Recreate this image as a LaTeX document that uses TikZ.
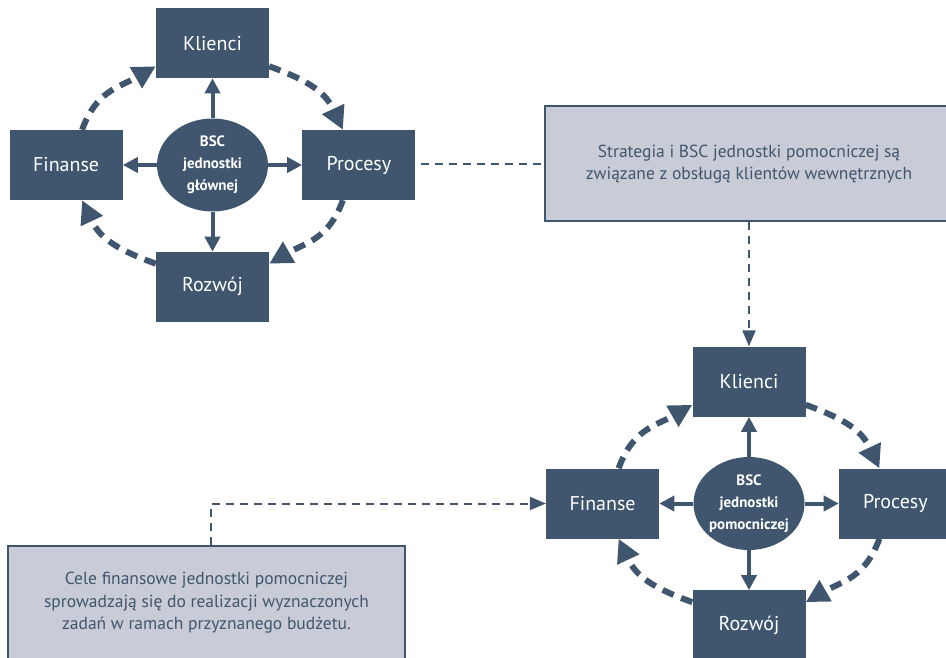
\documentclass[tikz,border=0pt]{standalone}
\usepackage{fontspec}
\setmainfont{PT Sans}
\usetikzlibrary{arrows.meta, positioning, shapes.geometric}
\definecolor{bscblue}{HTML}{40566E}
\definecolor{notegray}{HTML}{C9CCD6}

\begin{document}
\begin{tikzpicture}[x=1pt, y=1pt, node distance=40pt and 34pt]
    \tikzstyle{area}=[rectangle, fill=bscblue, text=white, minimum width=113pt, minimum height=70pt, inner sep=0pt, font=\fontsize{20}{22}\selectfont]
    \tikzstyle{core}=[ellipse, fill=bscblue, text=white, minimum width=111pt, minimum height=93pt, inner sep=-6pt, align=center, font=\bfseries\fontsize{15}{22}\selectfont]
    \tikzstyle{note}=[rectangle, draw=bscblue, line width=2pt, fill=notegray, text=bscblue, align=center, minimum height=115pt, font=\fontsize{17.5}{22.5}\selectfont]
    \tikzstyle{spoke}=[line width=4pt, draw=bscblue, -{Triangle[length=15pt, width=15pt]}]
    \tikzstyle{cycle}=[line width=6pt, draw=bscblue, dash pattern=on 12pt off 8pt, -{Triangle[length=23pt, width=23pt]}]
    \tikzstyle{link}=[line width=2pt, draw=bscblue, dash pattern=on 8pt off 6pt]
    \clip (0,0) rectangle (946,-658);

    % jednostka glowna
    \node[core] (main) at (212.5,-165) {BSC\\jednostki\\głównej};
    \node[area, above=of main] (kli) {Klienci};
    \node[area, below=of main] (roz) {Rozwój};
    \node[area, left=of main] (fin) {Finanse};
    \node[area, right=of main] (pro) {Procesy};
    \foreach \n in {kli, roz, fin, pro}
      \draw[spoke] (main) -- (\n);
    \draw[cycle] ([xshift=16pt]fin.north) to[out=70, in=210, looseness=1.1] ([yshift=12pt]kli.south west);
    \draw[cycle] ([yshift=12pt]kli.south east) to[out=-20, in=115, looseness=1.1] ([xshift=-16pt]pro.north);
    \draw[cycle] ([xshift=-16pt]pro.south) to[out=250, in=30, looseness=1.1] ([yshift=-12pt]roz.north east);
    \draw[cycle] ([yshift=-12pt]roz.north west) to[out=160, in=295, looseness=1.1] ([xshift=16pt]fin.south);

    % jednostka pomocnicza
    \node[core] (aux) at (749,-503.5) {BSC\\jednostki\\pomocniczej};
    \node[area, above=of aux] (kli2) {Klienci};
    \node[area, below=of aux] (roz2) {Rozwój};
    \node[area, left=of aux] (fin2) {Finanse};
    \node[area, right=of aux] (pro2) {Procesy};
    \foreach \n in {kli2, roz2, fin2, pro2}
      \draw[spoke] (aux) -- (\n);
    \draw[cycle] ([xshift=16pt]fin2.north) to[out=70, in=210, looseness=1.1] ([yshift=12pt]kli2.south west);
    \draw[cycle] ([yshift=12pt]kli2.south east) to[out=-20, in=115, looseness=1.1] ([xshift=-16pt]pro2.north);
    \draw[cycle] ([xshift=-16pt]pro2.south) to[out=250, in=30, looseness=1.1] ([yshift=-12pt]roz2.north east);
    \draw[cycle] ([yshift=-12pt]roz2.north west) to[out=160, in=295, looseness=1.1] ([xshift=16pt]fin2.south);

    % opisy
    \node[note, minimum width=408pt, above=124pt of kli2] (strat) {Strategia i BSC jednostki pomocniczej są\\związane z obsługą klientów wewnętrznych};
    \node[note, minimum width=397pt] (goal) at (206.5,-603) {Cele finansowe jednostki pomocniczej\\sprowadzają się do realizacji wyznaczonych\\zadań w ramach przyznanego budżetu.};
    \draw[link] ([xshift=5pt]pro.east |- strat.west) -- (strat.west);
    \draw[link, -{Triangle[length=16pt, width=13pt]}] (strat.south) -- (kli2.north);
    \draw[link, -{Triangle[length=16pt, width=13pt]}] ([xshift=4pt]goal.north) |- (fin2.west);
\end{tikzpicture}
\end{document}
